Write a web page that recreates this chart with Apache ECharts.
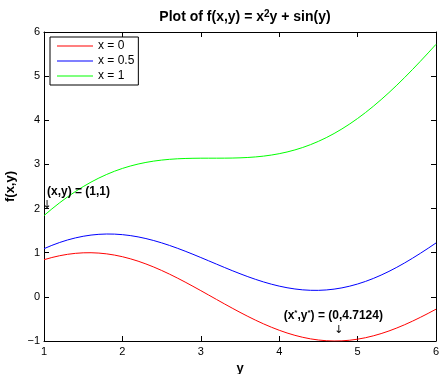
<!DOCTYPE html>
<html><head><meta charset="utf-8">
<script src="https://cdn.jsdelivr.net/npm/echarts@6/dist/echarts.min.js"></script>
<style>html,body{margin:0;padding:0;background:#fff}#c{width:440px;height:374px}</style>
</head><body><div id="c"></div>
<script>
const yVals = [1.0,1.1,1.2,1.3,1.4,1.5,1.6,1.7,1.8,1.9,2.0,2.1,2.2,2.3,2.4,2.5,2.6,2.7,2.8,2.9,3.0,3.1,3.2,3.3,3.4,3.5,3.6,3.7,3.8,3.9,4.0,4.1,4.2,4.3,4.4,4.5,4.6,4.7,4.8,4.9,5.0,5.1,5.2,5.3,5.4,5.5,5.6,5.7,5.8,5.9,6.0];
const fx0 = [0.8415,0.8912,0.9320,0.9636,0.9854,0.9975,0.9996,0.9917,0.9738,0.9463,0.9093,0.8632,0.8085,0.7457,0.6755,0.5985,0.5155,0.4274,0.3350,0.2392,0.1411,0.0416,-0.0584,-0.1577,-0.2555,-0.3508,-0.4425,-0.5298,-0.6119,-0.6878,-0.7568,-0.8183,-0.8716,-0.9162,-0.9516,-0.9775,-0.9937,-0.9999,-0.9962,-0.9825,-0.9589,-0.9258,-0.8835,-0.8323,-0.7728,-0.7055,-0.6313,-0.5507,-0.4646,-0.3739,-0.2794];
const fx05 = [1.0915,1.1662,1.2320,1.2886,1.3354,1.3725,1.3996,1.4167,1.4238,1.4213,1.4093,1.3882,1.3585,1.3207,1.2755,1.2235,1.1655,1.1024,1.0350,0.9642,0.8911,0.8166,0.7416,0.6673,0.5945,0.5242,0.4575,0.3952,0.3381,0.2872,0.2432,0.2067,0.1784,0.1588,0.1484,0.1475,0.1563,0.1751,0.2038,0.2425,0.2911,0.3492,0.4165,0.4927,0.5772,0.6695,0.7687,0.8743,0.9854,1.1011,1.2206];
const fx1 = [1.8415,1.9912,2.1320,2.2636,2.3854,2.4975,2.5996,2.6917,2.7738,2.8463,2.9093,2.9632,3.0085,3.0457,3.0755,3.0985,3.1155,3.1274,3.1350,3.1392,3.1411,3.1416,3.1416,3.1423,3.1445,3.1492,3.1575,3.1702,3.1881,3.2122,3.2432,3.2817,3.3284,3.3838,3.4484,3.5225,3.6063,3.7001,3.8038,3.9175,4.0411,4.1742,4.3165,4.4677,4.6272,4.7945,4.9687,5.1493,5.3354,5.5261,5.7206];
const seriesNames = ['x = 0','x = 0.5','x = 1'];
const xTicks = [1,2,3,4,5,6];
const yTicks = [-1,0,1,2,3,4,5,6];
// annotation anchors in data coordinates
const ann1Text = [1.44, 2.39];
const ann1Arrow = [1.04, 2.08];
const ann2Text = [4.69, -0.43];
const ann2Arrow = [4.76, -0.76];

const FONT = 'Liberation Sans, Arial, Helvetica, sans-serif';
const pair = (xs, ys) => xs.map((v, i) => [v, ys[i]]);
const fmt = v => String(v).replace('-', '\u2212');

const chart = echarts.init(document.getElementById('c'), null, {renderer: 'canvas'});
const axisCommon = {
  axisLine: {show: true, onZero: false, lineStyle: {color: '#000', width: 1}},
  axisTick: {show: true, inside: true, length: 5, lineStyle: {color: '#000'}},
  splitLine: {show: false}
};
const annLabel = {fontFamily: FONT, fontSize: 12, fontWeight: 'bold', color: '#000'};
const arrowLabel = {fontFamily: 'DejaVu Sans', fontSize: 11, fontWeight: 'normal', color: '#000'};
chart.setOption({
  animation: false,
  backgroundColor: '#fff',
  title: {
    text: '{a|Plot of f(x,y) = x}{s|2}{a|y + sin(y)}',
    left: 240, top: 4, textAlign: 'center',
    textStyle: {rich: {
      a: {fontFamily: FONT, fontSize: 14, fontWeight: 'bold', color: '#000'},
      s: {fontFamily: FONT, fontSize: 10, fontWeight: 'bold', color: '#000', verticalAlign: 'top', padding: [0,0,7,0]}
    }}
  },
  grid: {left: 44, right: 4, top: 32, bottom: 33, containLabel: false, outerBoundsMode: 'none'},
  legend: {
    orient: 'vertical', left: 50, top: 37,
    data: seriesNames,
    backgroundColor: '#fff', borderColor: '#000', borderWidth: 1,
    padding: [3, 4, 3, 7],
    itemWidth: 36, itemHeight: 10, itemGap: 3,
    textStyle: {fontFamily: FONT, fontSize: 12, color: '#000', lineHeight: 10},
    icon: 'path://M0,5L34,5L34,6L0,6Z'
  },
  xAxis: [
    Object.assign({type: 'value', min: 1, max: 6, interval: 1, position: 'bottom',
      name: 'y', nameLocation: 'middle', nameGap: 20,
      nameTextStyle: {fontFamily: FONT, fontSize: 13, fontWeight: 'bold', color: '#000'},
      axisLabel: {fontFamily: FONT, fontSize: 11, color: '#000', margin: 5, formatter: fmt}}, axisCommon),
    Object.assign({type: 'value', min: 1, max: 6, interval: 1, position: 'top',
      axisLabel: {show: false}}, axisCommon)
  ],
  yAxis: [
    Object.assign({type: 'value', min: -1, max: 6, interval: 1, position: 'left',
      name: 'f(x,y)', nameLocation: 'middle', nameGap: 23, nameRotate: 90,
      nameTextStyle: {fontFamily: FONT, fontSize: 13, fontWeight: 'bold', color: '#000'},
      axisLabel: {fontFamily: FONT, fontSize: 11, color: '#000', margin: 4, formatter: fmt}}, axisCommon),
    Object.assign({type: 'value', min: -1, max: 6, interval: 1, position: 'right',
      axisLabel: {show: false}}, axisCommon)
  ],
  series: [
    {name: seriesNames[0], type: 'line', data: pair(yVals, fx0), symbol: 'none', smooth: false,
      lineStyle: {color: '#ff0000', width: 1}, itemStyle: {color: '#ff0000'},
      markPoint: {symbol: 'circle', symbolSize: 0, silent: true,
        data: [
          {coord: ann2Text, label: Object.assign({show: true, position: 'inside', formatter: '{b|(x}{s|*}{b|,y}{s|*}{b|) = (0,4.7124)}',
            rich: {b: annLabel, s: {fontFamily: FONT, fontSize: 8, fontWeight: 'bold', color: '#000', verticalAlign: 'top', padding: [0,0,6,0]}}}, annLabel)},
          {coord: ann2Arrow, label: Object.assign({show: true, position: 'inside', formatter: '\u2193'}, arrowLabel)}
        ]}},
    {name: seriesNames[1], type: 'line', data: pair(yVals, fx05), symbol: 'none',
      lineStyle: {color: '#0000ff', width: 1}, itemStyle: {color: '#0000ff'}},
    {name: seriesNames[2], type: 'line', data: pair(yVals, fx1), symbol: 'none',
      lineStyle: {color: '#00ff00', width: 1}, itemStyle: {color: '#00ff00'},
      markPoint: {symbol: 'circle', symbolSize: 0, silent: true,
        data: [
          {coord: ann1Text, label: Object.assign({show: true, position: 'inside', formatter: '(x,y) = (1,1)'}, annLabel)},
          {coord: ann1Arrow, label: Object.assign({show: true, position: 'inside', formatter: '\u2193'}, arrowLabel)}
        ]}}
  ]
});
</script></body></html>
